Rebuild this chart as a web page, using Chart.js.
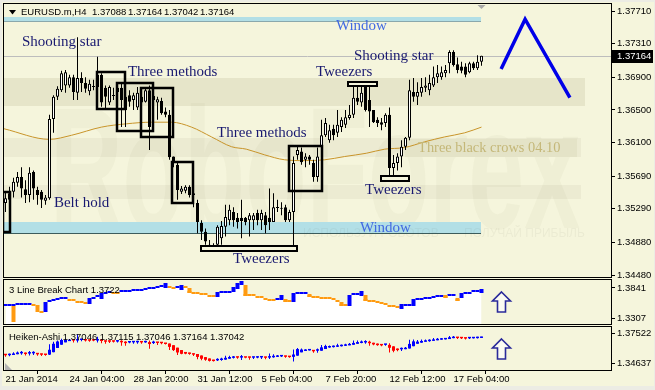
<!DOCTYPE html>
<html><head><meta charset="utf-8">
<script src="https://cdn.jsdelivr.net/npm/chart.js@4.4.1/dist/chart.umd.min.js"></script>
<style>
html,body{margin:0;padding:0;background:#ECECE4;}
#wrap{position:relative;width:655px;height:390px;overflow:hidden;background:#ECECE4;}
#inner{position:absolute;left:2px;top:2px;width:652px;height:384px;background:#F5F5DC;}
canvas{position:absolute;left:0;top:0;}
</style></head><body>
<div id="wrap"><div id="inner"></div>
<canvas id="c1" width="655" height="390"></canvas>
<canvas id="c2" width="655" height="390"></canvas>
<canvas id="c3" width="655" height="390"></canvas>
</div>
<script>
// ---------- DATA ----------
const symbolTitle = 'EURUSD.m,H4';
const timeLabels = ['21 Jan 2014','24 Jan 04:00','28 Jan 20:00','31 Jan 12:00','5 Feb 04:00','7 Feb 20:00','12 Feb 12:00','17 Feb 04:00'];
const timeTickBars = [0,16,32,48,64,80,96,112];
const mainTicks = [1.3448,1.3488,1.3529,1.3569,1.3610,1.3650,1.3690,1.3731,1.3771];

const opens = [1.3536,1.3548,1.3550,1.3561,1.3568,1.3553,1.3546,1.3574,1.3552,1.3550,
1.3539,1.3542,1.3639,1.3666,1.3674,1.3680,1.3680,1.3690,1.3671,1.3689,
1.3683,1.3673,1.3678,1.3678,1.3693,1.3677,1.3659,1.3667,1.3677,1.3677,
1.3666,1.3668,1.3662,1.3653,1.3666,1.3660,1.3674,1.3662,1.3659,1.3661,
1.3648,1.3644,1.3593,1.3583,1.3550,1.3551,1.3556,1.3548,1.3536,1.3512,
1.3501,1.3485,1.3481,1.3485,1.3493,1.3507,1.3515,1.3525,1.3518,1.3518,
1.3518,1.3515,1.3515,1.3524,1.3515,1.3521,1.3518,1.3513,1.3530,1.3529,
1.3531,1.3515,1.3525,1.3595,1.3599,1.3589,1.3593,1.3585,1.3568,1.3605,
1.3619,1.3613,1.3627,1.3622,1.3629,1.3632,1.3640,1.3644,1.3665,1.3659,
1.3678,1.3662,1.3650,1.3638,1.3635,1.3634,1.3644,1.3579,1.3585,1.3593,
1.3605,1.3616,1.3672,1.3666,1.3671,1.3677,1.3674,1.3680,1.3690,1.3690,
1.3695,1.3707,1.3721,1.3706,1.3703,1.3703,1.3696,1.3707,1.3701,1.37088];
const highs = [1.3550,1.3556,1.3567,1.3574,1.3580,1.3564,1.3580,1.3576,1.3556,1.3552,
1.3546,1.3644,1.3668,1.3679,1.3698,1.3699,1.3693,1.3693,1.3739,1.3696,
1.3690,1.3687,1.3687,1.3715,1.3695,1.3680,1.3680,1.3677,1.3680,1.3683,
1.3674,1.3674,1.3671,1.3678,1.3671,1.3677,1.3680,1.3677,1.3666,1.3665,
1.3653,1.3650,1.3593,1.3585,1.3557,1.3558,1.3558,1.3551,1.3540,1.3515,
1.3505,1.3491,1.3487,1.3509,1.3514,1.3534,1.3534,1.3531,1.3524,1.3540,
1.3519,1.3524,1.3524,1.3528,1.3528,1.3525,1.3554,1.3548,1.3540,1.3537,
1.3534,1.3528,1.3593,1.3607,1.3604,1.3597,1.3595,1.3589,1.3604,1.3638,
1.3640,1.3632,1.3632,1.3650,1.3641,1.3650,1.3656,1.3679,1.3679,1.3679,
1.3683,1.3678,1.3650,1.3641,1.3640,1.3646,1.3653,1.3595,1.3597,1.3613,
1.3617,1.3687,1.3689,1.3684,1.3689,1.3690,1.3693,1.3703,1.3705,1.3703,
1.3705,1.3723,1.3723,1.3714,1.3709,1.3707,1.3709,1.3709,1.3717,1.37164];
const lows = [1.3525,1.3528,1.3543,1.3556,1.3543,1.3536,1.3537,1.3540,1.3534,1.3530,
1.3534,1.3540,1.3622,1.3662,1.3672,1.3671,1.3677,1.3662,1.3662,1.3672,
1.3671,1.3668,1.3674,1.3662,1.3654,1.3650,1.3656,1.3662,1.3662,1.3629,
1.3629,1.3654,1.3650,1.3650,1.3650,1.3659,1.3601,1.3646,1.3638,1.3644,
1.3641,1.3589,1.3580,1.3540,1.3547,1.3548,1.3543,1.3531,1.3499,1.3491,
1.3485,1.3479,1.3479,1.3482,1.3485,1.3495,1.3509,1.3507,1.3505,1.3493,
1.3509,1.3495,1.3503,1.3509,1.3503,1.3499,1.3503,1.3513,1.3525,1.3521,
1.3513,1.3513,1.3479,1.3589,1.3583,1.3580,1.3583,1.3562,1.3562,1.3595,
1.3617,1.3610,1.3613,1.3617,1.3623,1.3628,1.3638,1.3640,1.3656,1.3654,
1.3648,1.3629,1.3634,1.3629,1.3625,1.3629,1.3564,1.3567,1.3576,1.3580,
1.3601,1.3613,1.3660,1.3656,1.3666,1.3672,1.3668,1.3678,1.3683,1.3687,
1.3690,1.3695,1.3703,1.3695,1.3695,1.3690,1.3695,1.3699,1.3699,1.37042];
const closes = [1.3542,1.3540,1.3562,1.3568,1.3554,1.3546,1.3573,1.3554,1.3546,1.3540,
1.3543,1.3639,1.3666,1.3676,1.3695,1.3696,1.3690,1.3672,1.3689,1.3683,
1.3676,1.3682,1.3679,1.3693,1.3659,1.3666,1.3678,1.3668,1.3672,1.3662,
1.3650,1.3660,1.3668,1.3671,1.3659,1.3674,1.3629,1.3667,1.3663,1.3646,
1.3644,1.3592,1.3585,1.3552,1.3554,1.3556,1.3546,1.3546,1.3513,1.3501,
1.3489,1.3481,1.3482,1.3507,1.3508,1.3519,1.3528,1.3515,1.3513,1.3514,
1.3513,1.3521,1.3521,1.3515,1.3524,1.3509,1.3513,1.3531,1.3531,1.3530,
1.3515,1.3525,1.3585,1.3601,1.3586,1.3593,1.3589,1.3568,1.3593,1.3619,
1.3634,1.3625,1.3619,1.3632,1.3638,1.3641,1.3644,1.3665,1.3660,1.3671,
1.3650,1.3648,1.3635,1.3634,1.3632,1.3644,1.3579,1.3585,1.3593,1.3605,
1.3616,1.3674,1.3666,1.3672,1.3678,1.3680,1.3683,1.3690,1.3695,1.3696,
1.3699,1.3721,1.3705,1.3699,1.3698,1.3693,1.3707,1.3701,1.3709,1.37164];

// moving average, read at points along the curve
const maBars = [-0.4,11,16.5,24,30.2,36.5,41.5,46.5,51.5,56.5,60.2,64.8,69.8,74.8,79.8,84.8,90.2,94.8,99.8,104.8,109.8,114.8,119];
const maValues = [1.3627,1.3614,1.3619,1.3629,1.3633,1.3635,1.3635,1.3629,1.3617,1.3605,1.3602,1.3595,1.3589,1.3588,1.3589,1.3593,1.3597,1.3602,1.3604,1.3611,1.3617,1.3622,1.3629];

// blue forecast zig-zag
const zigBars = [123.9,129.9,141.1];
const zigValues = [1.3700,1.3761,1.3665];

// pattern labels
const patternText = ['Shooting star','Three methods','Three methods','Tweezers','Shooting star','Belt hold','Tweezers','Tweezers'];
const patternBar = [4.1,30.6,52.9,77.6,87.1,12.1,56.9,89.9];
const patternPrice = [1.3733,1.3696,1.3622,1.3696,1.3716,1.3536,1.3468,1.3552];
const windowText = ['Window','Window'];
const windowTextBar = [82.6,88.6];
const windowTextPrice = [1.3752,1.3506];
const crowsText = 'Three black crows 04.10';
const crowsBox = [99.9,142.9,1.3614,1.3592];

// pattern boxes [fromBar, toBar, hi, lo]
const boxFrom = [-0.6,22.9,27.9,33.9,41.6,70.9];
const boxTo   = [1.1,29.9,36.9,41.9,46.9,79.1];
const boxHi   = [1.3550,1.3696,1.3683,1.3677,1.3586,1.3606];
const boxLo   = [1.3501,1.3651,1.3624,1.3617,1.3536,1.3551];
const tweezFrom = [48.9,85.6,93.9];
const tweezTo   = [72.9,92.9,100.9];
const tweezHi   = [1.3482,1.3683,1.3568];
const tweezLo   = [1.3477,1.3679,1.3563];

// window gaps and shaded bands
const windowFrom = [-0.6,-0.6];
const windowTo   = [118.9,118.9];
const windowHi   = [1.3764,1.3513];
const windowLo   = [1.3758,1.3498];
const bandFrom = [-0.6,-0.6,-0.6];
const bandTo   = [144.9,143.9,143.9];
const bandHi   = [1.3689,1.3616,1.3558];
const bandLo   = [1.3655,1.3592,1.3541];

// 3 Line Break panel
const lbTitle = '3 Line Break Chart 1.3722';
const lbTicks = [1.3307,1.3841];
const lbLevel = [1.3521,1.3521,1.3521,1.3538,1.3538,1.3538,1.3538,1.3521,1.3503,1.3396,
1.3556,1.3592,1.3610,1.3627,1.3645,1.3645,1.3610,1.3610,1.3574,1.3574,
1.3556,1.3627,1.3645,1.3681,1.3716,1.3734,1.3752,1.3734,1.3734,1.3770,
1.3770,1.3770,1.3788,1.3788,1.3788,1.3805,1.3823,1.3823,1.3841,1.3859,
1.3894,1.3841,1.3823,1.3841,1.3859,1.3841,1.3752,1.3734,1.3734,1.3716,
1.3716,1.3681,1.3681,1.3734,1.3752,1.3752,1.3752,1.3823,1.3894,1.3930,
1.3699,1.3699,1.3699,1.3663,1.3663,1.3627,1.3610,1.3610,1.3627,1.3681,
1.3592,1.3592,1.3716,1.3734,1.3734,1.3734,1.3681,1.3663,1.3663,1.3645,
1.3645,1.3645,1.3627,1.3592,1.3521,1.3521,1.3681,1.3716,1.3716,1.3752,
1.3610,1.3592,1.3592,1.3574,1.3556,1.3538,1.3503,1.3503,1.3485,1.3521,
1.3521,1.3521,1.3610,1.3627,1.3627,1.3645,1.3645,1.3663,1.3681,1.3681,
1.3663,1.3699,1.3699,1.3610,1.3716,1.3734,1.3734,1.3770,1.3770,1.3788];
const lbBoxBar = [2,8,10,21,24,40,44,46,53,57,58,59,60,69,70,72,76,84,86,89,90,99,102,110,113,114,119];
const lbBoxHi  = [1.3521,1.3503,1.3556,1.3627,1.3716,1.3894,1.3859,1.3841,1.3734,1.3823,1.3894,1.3930,1.3894,1.3681,1.3645,1.3716,1.3734,1.3592,1.3681,1.3752,1.3716,1.3521,1.3610,1.3716,1.3663,1.3716,1.3788];
const lbBoxLo  = [1.3236,1.3414,1.3414,1.3556,1.3645,1.3841,1.3805,1.3752,1.3681,1.3770,1.3823,1.3894,1.3699,1.3627,1.3592,1.3592,1.3681,1.3521,1.3521,1.3699,1.3610,1.3467,1.3521,1.3663,1.3610,1.3663,1.3752];
const lbBoxUp  = [0,0,1,1,1,1,1,0,1,1,1,1,0,1,0,1,0,0,1,1,0,1,1,0,0,1,1];

// Heiken-Ashi panel
const haTitle = 'Heiken-Ashi 1.37046 1.37115 1.37046 1.37164 1.37042';
const haTicks = [1.34637,1.37522];
const arrowBar = 123.9;

// ---------- STYLE ----------
const CREAM = '#F5F5DC', NAVY = '#191970', ROYAL = '#4169E1';
const BLUE = '#0000FF', ORANGE = '#FF9A10', RED = '#FF0000';
const SANS = "'Liberation Sans', Arial, sans-serif";
const SERIF = "'Liberation Serif', 'Times New Roman', serif";
Chart.defaults.font.family = SANS;
Chart.defaults.font.size = 9.5;
Chart.defaults.color = '#000';
Chart.defaults.animation = false;
Chart.defaults.plugins.legend.display = false;
Chart.defaults.plugins.tooltip.enabled = false;

const bars = opens.map((_, i) => i);

function xAxis(show) {
  const ax = {type:'linear', min:-0.375, max:151.375, offset:false, display:show, border:{display:false}};
  if (show) Object.assign(ax, {
    grid:{drawOnChartArea:false, drawTicks:true, tickLength:4, color:'#000'},
    afterBuildTicks: s => { s.ticks = timeTickBars.map(v => ({value:v})); },
    ticks:{align:'start', padding:0, autoSkip:false, maxRotation:0, minRotation:0, color:'#000',
      callback:(v, i) => timeLabels[i]},
    afterFit: s => { s.height = 19; s.paddingLeft = 0; s.paddingRight = 0; }
  });
  return ax;
}
function yAxis(min, max, ticks, dec) {
  return {position:'right', min, max, border:{display:false},
    grid:{drawOnChartArea:false, drawTicks:true, tickLength:4, color:'#000'},
    afterBuildTicks: s => { s.ticks = ticks.map(v => ({value:v})); },
    ticks:{padding:2, autoSkip:false, color:'#000', callback: v => Number(v).toFixed(dec)},
    afterFit: s => { s.width = 44; s.paddingTop = 0; s.paddingBottom = 0; }};
}
function rectPx(chart, x0, x1, hi, lo) {
  const {x, y} = chart.scales;
  const a = Math.round(x.getPixelForValue(x0)), b = Math.round(x.getPixelForValue(x1));
  const t = Math.round(y.getPixelForValue(hi)), u = Math.round(y.getPixelForValue(lo));
  return [a, t, b - a, u - t];
}
function frame(chart) {
  const {ctx, chartArea:a} = chart;
  ctx.save(); ctx.strokeStyle = '#000'; ctx.lineWidth = 1;
  ctx.strokeRect(a.left - 0.5, a.top - 0.5, a.right - a.left + 1, a.bottom - a.top + 1);
  ctx.restore();
}
function upArrow(ctx, cx, cy) {
  ctx.save();
  ctx.beginPath();
  ctx.moveTo(cx, cy - 10); ctx.lineTo(cx + 9, cy - 1); ctx.lineTo(cx + 4, cy - 1);
  ctx.lineTo(cx + 4, cy + 10); ctx.lineTo(cx - 4, cy + 10); ctx.lineTo(cx - 4, cy - 1);
  ctx.lineTo(cx - 9, cy - 1); ctx.closePath();
  ctx.fillStyle = '#FBFBF2'; ctx.fill();
  ctx.strokeStyle = '#2A2A9A'; ctx.lineWidth = 1.6; ctx.stroke();
  ctx.restore();
}

// ---------- MAIN CHART ----------
const mainDecor = {
  id:'mainDecor',
  beforeDatasetsDraw(chart) {
    const {ctx, chartArea:a, scales:{x, y}} = chart;
    ctx.save();
    ctx.beginPath(); ctx.rect(a.left, a.top, a.right - a.left, a.bottom - a.top); ctx.clip();
    bandFrom.forEach((f, k) => {
      const r = rectPx(chart, f, bandTo[k], bandHi[k], bandLo[k]);
      ctx.fillStyle = k === 0 ? '#E6E5C9' : '#ECEBD2';
      ctx.fillRect(...r);
    });
    // watermark
    ctx.save();
    ctx.font = 'bold 172px ' + SANS;
    const w = ctx.measureText('RoboForex').width;
    ctx.translate(50, 228); ctx.scale(530 / w, 1);
    ctx.fillStyle = 'rgba(120,120,60,0.045)';
    ctx.textBaseline = 'alphabetic';
    ctx.fillText('RoboForex', 0, 0);
    ctx.restore();
    // window gaps
    windowFrom.forEach((f, k) => {
      const r = rectPx(chart, f, windowTo[k], windowHi[k], windowLo[k]);
      ctx.fillStyle = '#B2DFE6'; ctx.fillRect(...r);
      ctx.fillStyle = k === 1 ? '#3C5C5C' : '#8AA8AC';
      ctx.fillRect(r[0], r[1] + r[3] - 1, r[2], 1);
    });
    ctx.font = '12px ' + SANS;
    ctx.fillStyle = 'rgba(90,90,70,0.06)';
    ctx.textBaseline = 'middle';
    ctx.fillText('ИСПОЛЬЗУЙ РОБОТОВ  —  ПОЛУЧАЙ ПРИБЫЛЬ', 303, 234);
    // current price line
    const py = Math.round(y.getPixelForValue(closes[closes.length - 1])) + 0.5;
    ctx.strokeStyle = '#BDBDBD'; ctx.lineWidth = 1;
    ctx.beginPath(); ctx.moveTo(a.left, py); ctx.lineTo(a.right, py); ctx.stroke();
    // three black crows label box
    const cr = rectPx(chart, crowsBox[0], crowsBox[1], crowsBox[2], crowsBox[3]);
    ctx.fillStyle = '#E4E3C7'; ctx.fillRect(...cr);
    ctx.restore();
  },
  afterDatasetsDraw(chart) {
    const {ctx, chartArea:a, scales:{x, y}} = chart;
    ctx.save();
    ctx.beginPath(); ctx.rect(a.left, a.top, a.right - a.left, a.bottom - a.top); ctx.clip();
    ctx.strokeStyle = '#000'; ctx.lineWidth = 2.5;
    boxFrom.forEach((f, k) => {
      const r = rectPx(chart, f, boxTo[k], boxHi[k], boxLo[k]);
      ctx.strokeRect(...r);
    });
    tweezFrom.forEach((f, k) => {
      const r = rectPx(chart, f, tweezTo[k], tweezHi[k], tweezLo[k]);
      r[1] -= 1; r[3] = Math.max(r[3], 3) + 1;
      ctx.fillStyle = CREAM; ctx.fillRect(...r);
      ctx.lineWidth = 2; ctx.strokeRect(...r);
    });
    ctx.textBaseline = 'middle'; ctx.textAlign = 'left';
    ctx.font = '15px ' + SERIF;
    ctx.fillStyle = NAVY;
    patternText.forEach((t, k) => ctx.fillText(t, x.getPixelForValue(patternBar[k]), y.getPixelForValue(patternPrice[k])));
    ctx.fillStyle = ROYAL;
    windowText.forEach((t, k) => ctx.fillText(t, x.getPixelForValue(windowTextBar[k]), y.getPixelForValue(windowTextPrice[k])));
    ctx.font = '14.4px ' + SERIF;
    ctx.fillStyle = '#C4B778';
    ctx.fillText(crowsText, x.getPixelForValue(crowsBox[0]) + 13, (y.getPixelForValue(crowsBox[2]) + y.getPixelForValue(crowsBox[3])) / 2);
    ctx.restore();
  },
  afterDraw(chart) {
    const {ctx, chartArea:a, scales:{x, y}} = chart;
    frame(chart);
    ctx.save();
    // title
    ctx.fillStyle = '#000';
    ctx.beginPath(); ctx.moveTo(9, 10); ctx.lineTo(16, 10); ctx.lineTo(12.5, 14.5); ctx.closePath(); ctx.fill();
    ctx.font = '9.5px ' + SANS; ctx.textBaseline = 'middle'; ctx.textAlign = 'left';
    const n = closes.length - 1;
    ctx.fillText(symbolTitle, 21, 12.5);
    [opens[n], highs[n], lows[n], closes[n]].forEach((v, k) => ctx.fillText(v.toFixed(5), 92 + 36 * k, 12.5));
    // shift marker
    const sx = x.getPixelForValue(n);
    ctx.fillStyle = '#A8A8A8';
    ctx.beginPath(); ctx.moveTo(sx - 4, a.top + 1); ctx.lineTo(sx + 4, a.top + 1); ctx.lineTo(sx, a.top + 5); ctx.closePath(); ctx.fill();
    // price label
    const py = Math.round(y.getPixelForValue(closes[n]));
    ctx.fillStyle = '#000'; ctx.fillRect(a.right + 1, py - 6, 41, 13);
    ctx.fillStyle = '#FFF'; ctx.fillText(closes[n].toFixed(5), a.right + 6, py + 0.5);
    ctx.restore();
  }
};

new Chart(document.getElementById('c1'), {
  type:'bar',
  data:{datasets:[
    {type:'line', data:zigBars.map((b, k) => ({x:b, y:zigValues[k]})), borderColor:'#0000E8', borderWidth:3.5, pointRadius:0, tension:0, order:0},
    {type:'bar', data:bars.map(i => ({x:i, y:[opens[i], closes[i]]})), barThickness:3, grouped:false,
      backgroundColor:bars.map(i => closes[i] >= opens[i] ? '#FFFFFF' : '#000000'), borderColor:'#000', borderWidth:1,
      borderSkipped:false, inflateAmount:0, minBarLength:1, order:1},
    {type:'bar', data:bars.map(i => ({x:i, y:[lows[i], highs[i]]})), barThickness:1, grouped:false,
      backgroundColor:'#000', borderWidth:0, inflateAmount:0, order:2},
    {type:'line', data:maBars.map((b, k) => ({x:b, y:maValues[k]})), borderColor:'#C8942A', borderWidth:1, pointRadius:0,
      cubicInterpolationMode:'monotone', order:3}
  ]},
  options:{responsive:false, layout:{padding:{left:4, top:4, right:0, bottom:113}},
    scales:{x:xAxis(false), y:yAxis(1.34456, 1.37796, mainTicks, 5)}},
  plugins:[mainDecor]
});

// ---------- 3 LINE BREAK ----------
const lbColor = []; let dir = 1;
lbLevel.forEach((v, i) => { if (i > 0) { if (v > lbLevel[i - 1]) dir = 1; else if (v < lbLevel[i - 1]) dir = -1; } lbColor.push(dir > 0 ? BLUE : ORANGE); });
const subDecor = (title, withTri) => ({
  id:'subDecor',
  afterDraw(chart) {
    const {ctx, chartArea:a, scales:{x}} = chart;
    frame(chart);
    ctx.save();
    ctx.font = '9.5px ' + SANS; ctx.fillStyle = '#000'; ctx.textBaseline = 'middle';
    ctx.fillText(title, a.left + 5, a.top + 10);
    upArrow(ctx, Math.round(x.getPixelForValue(arrowBar)) + 0.5, Math.round((a.top + a.bottom) / 2));
    if (withTri) {
      ctx.fillStyle = '#B4B4B4';
      ctx.beginPath(); ctx.moveTo(a.left + 1, a.bottom - 7); ctx.lineTo(a.left + 1, a.bottom); ctx.lineTo(a.left + 8, a.bottom); ctx.closePath(); ctx.fill();
    }
    ctx.restore();
  }
});
new Chart(document.getElementById('c2'), {
  type:'bar',
  data:{datasets:[
    {type:'bar', data:lbBoxBar.map((b, k) => ({x:b, y:[lbBoxLo[k], lbBoxHi[k]]})), barThickness:4, grouped:false,
      backgroundColor:lbBoxUp.map(u => u ? BLUE : ORANGE), borderWidth:0, inflateAmount:0, order:1},
    {type:'bar', data:lbLevel.map((v, i) => ({x:i, y:[v, v]})), barThickness:4, grouped:false, minBarLength:2,
      backgroundColor:lbColor, borderWidth:0, inflateAmount:0, order:2},
    {type:'line', data:lbLevel.map((v, i) => ({x:i, y:v})), stepped:'middle', fill:'start', backgroundColor:'#FFFFFF',
      borderWidth:0, pointRadius:0, order:3}
  ]},
  options:{responsive:false, layout:{padding:{left:4, top:280, right:0, bottom:66}},
    scales:{x:xAxis(false), y:yAxis(1.32002, 1.39834, lbTicks, 4)}},
  plugins:[subDecor(lbTitle, false)]
});

// ---------- HEIKEN-ASHI (derived from the candle arrays) ----------
const haO = [], haC = [], haH = [], haL = [];
bars.forEach(i => {
  const c = (opens[i] + highs[i] + lows[i] + closes[i]) / 4;
  const o = i === 0 ? (opens[0] + closes[0]) / 2 : (haO[i - 1] + haC[i - 1]) / 2;
  haO.push(o); haC.push(c); haH.push(Math.max(highs[i], o, c)); haL.push(Math.min(lows[i], o, c));
});
const haCol = bars.map(i => haC[i] >= haO[i] ? BLUE : RED);
new Chart(document.getElementById('c3'), {
  type:'bar',
  data:{datasets:[
    {type:'bar', data:bars.map(i => ({x:i, y:[haO[i], haC[i]]})), barThickness:3, grouped:false, minBarLength:1.5,
      backgroundColor:haCol, borderWidth:0, inflateAmount:0, order:1},
    {type:'bar', data:bars.map(i => ({x:i, y:[haL[i], haH[i]]})), barThickness:1, grouped:false,
      backgroundColor:haCol, borderWidth:0, inflateAmount:0, order:2}
  ]},
  options:{responsive:false, layout:{padding:{left:4, top:327, right:0, bottom:1}},
    scales:{x:xAxis(true), y:yAxis(1.33964, 1.38099, haTicks, 5)}},
  plugins:[subDecor(haTitle, true)]
});
</script>
</body></html>
